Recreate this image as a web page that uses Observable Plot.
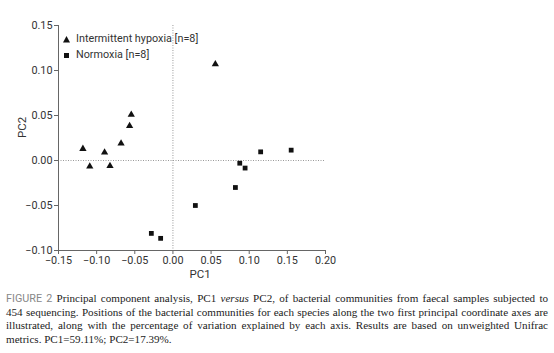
<!DOCTYPE html>
<html><head><meta charset="utf-8">
<script src="https://cdn.jsdelivr.net/npm/d3@7"></script>
<script src="https://cdn.jsdelivr.net/npm/@observablehq/plot@0.6"></script>
<style>
body{margin:0;background:#fff;width:554px;}
#wrap{position:relative;width:554px;height:285px;}
#legend{position:absolute;left:62px;top:31px;font:10.8px Roboto,sans-serif;color:#333;line-height:16px;}
#legend div{display:flex;align-items:center;}
#legend svg{margin-right:5px;}
#caption{margin:7px 6px 0 6px;font:11.1px "Liberation Serif",serif;line-height:13.6px;color:#222;}
#caption .ln{text-align:justify;text-align-last:justify;white-space:nowrap;}
#caption .ln.last{text-align-last:left;}
#caption .fig{font-family:Roboto,sans-serif;color:#888;font-size:10.8px;}
</style></head><body>
<div id="wrap"><div id="chart"></div>
<div id="legend"></div></div>
<div id="caption"></div>
<script>
const groups = ["Intermittent hypoxia [n=8]", "Normoxia [n=8]"];
const hypoxiaPC1 = [0.0556, -0.0546, -0.0568, -0.068, -0.118, -0.0896, -0.109, -0.0825];
const hypoxiaPC2 = [0.107, 0.051, 0.0385, 0.019, 0.013, 0.009, -0.0066, -0.006];
const normoxiaPC1 = [-0.0283, -0.0161, 0.0294, 0.0819, 0.0876, 0.0946, 0.115, 0.155];
const normoxiaPC2 = [-0.081, -0.0865, -0.050, -0.030, -0.003, -0.0084, 0.0096, 0.0115];
const xTicks = [-0.15, -0.10, -0.05, 0.00, 0.05, 0.10, 0.15, 0.20];
const yTicks = [-0.10, -0.05, 0.00, 0.05, 0.10, 0.15];
const captionLines = [
  [["fig", "FIGURE 2"], ["", " Principal component analysis, PC1 "], ["it", "versus"], ["", " PC2, of bacterial communities from faecal samples subjected to"]],
  [["", "454 sequencing. Positions of the bacterial communities for each species along the two first principal coordinate axes are"]],
  [["", "illustrated, along with the percentage of variation explained by each axis. Results are based on unweighted Unifrac"]],
  [["", "metrics. PC1=59.11%; PC2=17.39%."]]
];

const data = [
  ...hypoxiaPC1.map((x, i) => ({x, y: hypoxiaPC2[i], g: groups[0]})),
  ...normoxiaPC1.map((x, i) => ({x, y: normoxiaPC2[i], g: groups[1]}))
];
const fmt = d => (d < 0 ? "\u2212" : "") + Math.abs(d).toFixed(2);

const chart = Plot.plot({
  width: 554, height: 285,
  marginLeft: 58, marginRight: 229, marginTop: 25, marginBottom: 35,
  style: {fontFamily: "Roboto, sans-serif", fontSize: "10.8px", color: "#333"},
  x: {domain: [-0.15, 0.20]},
  y: {domain: [-0.10, 0.15]},
  symbol: {domain: groups, range: ["triangle", "square"]},
  marks: [
    Plot.ruleY([0], {stroke: "#999", strokeDasharray: "1,1.5"}),
    Plot.ruleX([0], {stroke: "#999", strokeDasharray: "1,1.5"}),
    Plot.axisX({ticks: xTicks, tickFormat: fmt, tickSize: 4, tickPadding: 2, stroke: "#666", label: null}),
    Plot.axisY({ticks: yTicks, tickFormat: fmt, tickSize: 4, tickPadding: 2, stroke: "#666", label: null}),
    Plot.ruleY([-0.10], {stroke: "#666"}),
    Plot.ruleX([-0.15], {stroke: "#666"}),
    Plot.text(["PC1"], {frameAnchor: "bottom", dx: 8, dy: 27, fontSize: 11.5, fill: "#333"}),
    Plot.text(["PC2"], {frameAnchor: "left", dx: -36, rotate: -90, fontSize: 11.5, fill: "#333"}),
    Plot.dot(data, {x: "x", y: "y", symbol: "g", fill: "#111", r: 2.7})
  ]
});
document.getElementById("chart").appendChild(chart);

const leg = document.getElementById("legend");
const shapes = [
  '<svg width="9" height="9"><path d="M4.5,1 L8,7.5 L1,7.5 Z" fill="#111"/></svg>',
  '<svg width="9" height="9"><rect x="2" y="2" width="5" height="5" fill="#111"/></svg>'
];
groups.forEach((g, i) => {
  const d = document.createElement("div");
  d.innerHTML = shapes[i] + "<span>" + g + "</span>";
  leg.appendChild(d);
});

const cap = document.getElementById("caption");
captionLines.forEach((segs, i) => {
  const line = document.createElement("div");
  line.className = "ln" + (i === captionLines.length - 1 ? " last" : "");
  segs.forEach(([cls, txt]) => {
    const s = document.createElement("span");
    if (cls === "fig") s.className = "fig";
    if (cls === "it") s.style.fontStyle = "italic";
    s.textContent = txt;
    line.appendChild(s);
  });
  cap.appendChild(line);
});
</script>
</body></html>
